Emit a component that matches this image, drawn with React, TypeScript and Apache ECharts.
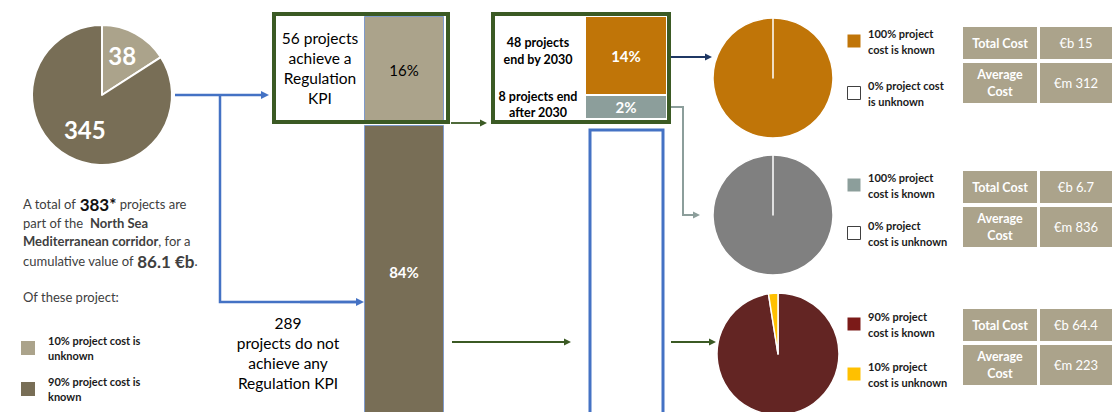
import React, { useEffect, useRef } from 'react';
import * as echarts from 'echarts';

const FONT = 'Lato, "Noto Sans", sans-serif';

// ---------- data ----------
const totalSplitNames = ['10% project cost is unknown', '90% project cost is known'];
const totalSplitCounts = [38, 345]; // labels shown in the slices
const totalSplitShares = [15.9, 84.1]; // slice sizes as drawn in the picture
const kpiShares = [16, 84]; // achieve a Regulation KPI / do not
const periodShares = [14, 2]; // end by 2030 / after 2030
const pieKnown = [100, 100, 97.5];
const pieUnknown = [0, 0, 2.5];
const pieLegendKnown = ['100% project\ncost is known', '100% project\ncost is known', '90% project\ncost is known'];
const pieLegendUnknown = ['0% project cost\nis unknown', '0% project\ncost is unknown', '10% project\ncost is unknown'];
const totalCosts = ['€b 15', '€b 6.7', '€b 64.4'];
const avgCosts = ['€m 312', '€m 836', '€m 223'];

// ---------- styles ----------
const TAUPE_L = '#ABA38B';
const TAUPE_D = '#786E56';
const BLUE = '#4472C4';
const GREEN = '#3B5A24';
const ORANGE = '#C07508';
const TEAL = '#8C9E9B';
const GREY = '#808080';
const MAROON = '#632523';
const YELLOW = '#FFC000';

function arrow(pts: number[][], color: string, lw: number, head = 8, hw = 4) {
  const [x1, y1] = pts[pts.length - 2];
  const [x2, y2] = pts[pts.length - 1];
  const a = Math.atan2(y2 - y1, x2 - x1);
  const bx = x2 - head * Math.cos(a);
  const by = y2 - head * Math.sin(a);
  return [
    {
      type: 'polyline',
      z: 20,
      shape: { points: [...pts.slice(0, -1), [bx + Math.cos(a), by + Math.sin(a)]] },
      style: { stroke: color, lineWidth: lw, fill: 'none' },
    },
    {
      type: 'polygon',
      z: 20,
      shape: {
        points: [
          [x2, y2],
          [bx - hw * Math.sin(a), by + hw * Math.cos(a)],
          [bx + hw * Math.sin(a), by - hw * Math.cos(a)],
        ],
      },
      style: { fill: color },
    },
  ];
}

function txt(text: string, x: number, y: number, o: any = {}) {
  return {
    type: 'text',
    z: 30,
    x,
    y,
    style: {
      text,
      fontFamily: FONT,
      fontSize: o.size ?? 12,
      fontWeight: o.weight ?? 'normal',
      fill: o.color ?? '#000',
      textAlign: o.align ?? 'left',
      textVerticalAlign: 'middle',
      lineHeight: o.lh ?? 16,
      rich: o.rich,
    },
  };
}

export default function App() {
  const ref = useRef<HTMLDivElement>(null);

  useEffect(() => {
    if (!ref.current) return;
    const chart = echarts.init(ref.current, null, { renderer: 'svg' });

    const segs = [
      { left: 364, top: 16, width: 80, height: 107, value: kpiShares[0], color: TAUPE_L, lc: '#000', bc: '#7F9ACB', bw: 1, fw: 'normal' },
      { left: 364, top: 125, width: 80, height: 294, value: kpiShares[1], color: TAUPE_D, lc: '#fff', bc: '#7F9ACB', bw: 1, fw: 'bold' },
      { left: 586, top: 17, width: 80, height: 77, value: periodShares[0], color: ORANGE, lc: '#fff', bc: ORANGE, bw: 0, fw: 'bold' },
      { left: 586, top: 96, width: 80, height: 22, value: periodShares[1], color: TEAL, lc: '#fff', bc: TEAL, bw: 0, fw: 'bold' },
      { left: 588.5, top: 128.5, width: 76, height: 320, value: kpiShares[1], color: '#fff', lc: 'none', bc: BLUE, bw: 3, fw: 'normal', noLabel: true },
    ];

    const grid = segs.map((s) => ({
      left: s.left,
      top: s.top,
      width: s.width,
      height: s.height,
      containLabel: false,
      outerBoundsMode: 'none',
    }));
    const xAxis = segs.map((_, i) => ({ type: 'category', gridIndex: i, data: ['x'], show: false }));
    const yAxis = segs.map((s, i) => ({ type: 'value', gridIndex: i, min: 0, max: s.value, show: false }));
    const barSeries = segs.map((s, i) => ({
      type: 'bar',
      xAxisIndex: i,
      yAxisIndex: i,
      data: [s.value],
      barWidth: '100%',
      silent: true,
      itemStyle: { color: s.color, borderColor: s.bc, borderWidth: s.bw },
      label: {
        show: !s.noLabel,
        position: 'inside',
        formatter: '{c}%',
        color: s.lc,
        fontFamily: FONT,
        fontSize: 15,
        fontWeight: s.fw,
      },
    }));

    const rightPies = [
      { center: [773, 78], r: 60, colors: [ORANGE, '#fff'] },
      { center: [773, 215], r: 60, colors: [GREY, '#fff'] },
      { center: [778, 354], r: 61, colors: [MAROON, YELLOW] },
    ];
    const pieSeries = rightPies.map((p, i) => ({
      type: 'pie',
      center: p.center,
      radius: p.r,
      startAngle: 90,
      silent: true,
      label: { show: false },
      labelLine: { show: false },
      itemStyle: { borderColor: '#fff', borderWidth: 1.5 },
      data: [
        { name: 'known', value: pieKnown[i], itemStyle: { color: p.colors[0] } },
        { name: 'unknown', value: pieUnknown[i], itemStyle: { color: p.colors[1] } },
      ],
    }));

    const legendColors = [
      [ORANGE, null],
      [TEAL, null],
      ['#7B1A18', YELLOW],
    ];
    const legendTops = [[34, 86], [178, 226], [317, 367]];
    const tableTops = [27, 171, 309];

    const graphic: any[] = [];

    // left paragraph
    const para = { size: 13, color: '#404040' };
    graphic.push(
      txt('A total of {b|383*} projects are', 23, 204, {
        ...para,
        rich: { b: { fontFamily: FONT, fontSize: 17, fontWeight: 'bold', fill: '#111', color: '#111' } },
      }),
      txt('part of the  {s|North Sea}', 23, 223, {
        ...para,
        rich: { s: { fontFamily: FONT, fontSize: 13, fontWeight: 'bold', color: '#222' } },
      }),
      txt('{s|Mediterranean corridor}, for a', 23, 241, {
        ...para,
        rich: { s: { fontFamily: FONT, fontSize: 13, fontWeight: 'bold', color: '#222' } },
      }),
      txt('cumulative value of {b|86.1 €b}.', 23, 261, {
        ...para,
        rich: { b: { fontFamily: FONT, fontSize: 17, fontWeight: 'bold', color: '#111' } },
      }),
      txt('Of these project:', 23, 297, para)
    );

    // left legend
    [TAUPE_L, TAUPE_D].forEach((c, i) => {
      const y = i === 0 ? 341 : 382;
      graphic.push({ type: 'rect', z: 30, shape: { x: 21, y, width: 14, height: 14 }, style: { fill: c } });
      const words = totalSplitNames[i].split(' cost is ');
      graphic.push(txt(words[0] + ' cost is\n' + words[1], 48, y + 7, { size: 11, weight: 'bold', color: '#1a1a1a', lh: 14.5 }));
    });

    // texts in boxes
    graphic.push(
      txt('56 projects\nachieve a\nRegulation\nKPI', 320, 68, { size: 15.5, lh: 19.8, align: 'center' }),
      txt('48 projects\nend by 2030', 538, 51, { size: 12.5, weight: 'bold', lh: 17, align: 'center' }),
      txt('8 projects end\nafter 2030', 538, 104, { size: 12.5, weight: 'bold', lh: 16, align: 'center' }),
      txt('289\nprojects do not\nachieve any\nRegulation KPI', 288, 353, { size: 15.5, lh: 20, align: 'center' })
    );

    // green boxes
    graphic.push(
      { type: 'rect', z: 25, shape: { x: 274, y: 14, width: 174, height: 108 }, style: { fill: 'none', stroke: GREEN, lineWidth: 4 } },
      { type: 'rect', z: 25, shape: { x: 493, y: 14, width: 176, height: 108 }, style: { fill: 'none', stroke: GREEN, lineWidth: 4 } }
    );

    // arrows
    graphic.push(
      ...arrow([[175, 95], [269, 95]], BLUE, 2.5),
      { type: 'polyline', z: 20, shape: { points: [[220, 95], [220, 302], [356, 302]] }, style: { stroke: BLUE, lineWidth: 2.5, fill: 'none' } },
      ...arrow([[300, 302], [364, 302]], BLUE, 2.5),
      ...arrow([[451, 123], [487, 123]], GREEN, 1.8, 7, 3.5),
      ...arrow([[452, 342], [571, 342]], GREEN, 1.8, 7, 3.5),
      ...arrow([[671, 342], [716, 342]], GREEN, 1.8, 7, 3.5),
      ...arrow([[667, 57], [712, 57]], '#1F3864', 2, 7, 3.5),
      ...arrow([[670, 107], [683, 107], [683, 215], [700, 215]], TEAL, 2, 7, 3.5)
    );

    // pie legends
    legendTops.forEach((tops, i) => {
      tops.forEach((y, j) => {
        const c = legendColors[i][j];
        graphic.push({
          type: 'rect',
          z: 30,
          shape: { x: 847.5, y: y + 0.5, width: 13, height: 13 },
          style: c ? { fill: c } : { fill: '#fff', stroke: '#404040', lineWidth: 1 },
        });
        graphic.push(
          txt(j === 0 ? pieLegendKnown[i] : pieLegendUnknown[i], 868, y + 7.5, { size: 11, weight: 'bold', color: '#1a1a1a', lh: 15.5 })
        );
      });
    });

    // cost tables
    tableTops.forEach((t, i) => {
      const r1 = { y: t, h: 32 };
      const r2 = { y: t + 36, h: 40 };
      [r1, r2].forEach((r, k) => {
        graphic.push(
          { type: 'rect', z: 30, shape: { x: 963, y: r.y, width: 74, height: r.h }, style: { fill: TAUPE_L } },
          { type: 'rect', z: 30, shape: { x: 1040, y: r.y, width: 72, height: r.h }, style: { fill: TAUPE_L } }
        );
        graphic.push(
          txt(k === 0 ? 'Total Cost' : 'Average\nCost', 1000, r.y + r.h / 2, { size: 12.5, weight: 'bold', color: '#fff', align: 'center', lh: 17 }),
          txt(k === 0 ? totalCosts[i] : avgCosts[i], 1076, r.y + r.h / 2, { size: 13, color: '#fff', align: 'center' })
        );
      });
    });

    const option: any = {
      animation: false,
      backgroundColor: '#fff',
      grid,
      xAxis,
      yAxis,
      series: [
        {
          type: 'pie',
          center: [102, 95],
          radius: 70,
          startAngle: 90,
          silent: true,
          itemStyle: { borderColor: '#fff', borderWidth: 2 },
          label: {
            show: true,
            position: 'inside',
            formatter: (p: any) => String(totalSplitCounts[p.dataIndex]),
            color: '#fff',
            fontFamily: FONT,
            fontSize: 24,
            fontWeight: 'bold',
          },
          labelLine: { show: false },
          labelLayout: (p: any) => (p.dataIndex === 0 ? { dx: 2, dy: -6 } : { dx: 1, dy: 1 }),
          data: totalSplitShares.map((v, i) => ({
            name: totalSplitNames[i],
            value: v,
            itemStyle: { color: i === 0 ? TAUPE_L : TAUPE_D },
          })),
        },
        ...barSeries,
        ...pieSeries,
      ],
      graphic,
    };

    chart.setOption(option);
    return () => chart.dispose();
  }, []);

  return (
    <div
      ref={ref}
      style={{ position: 'absolute', left: 0, top: 0, width: 1112, height: 412, background: '#fff' }}
    />
  );
}
